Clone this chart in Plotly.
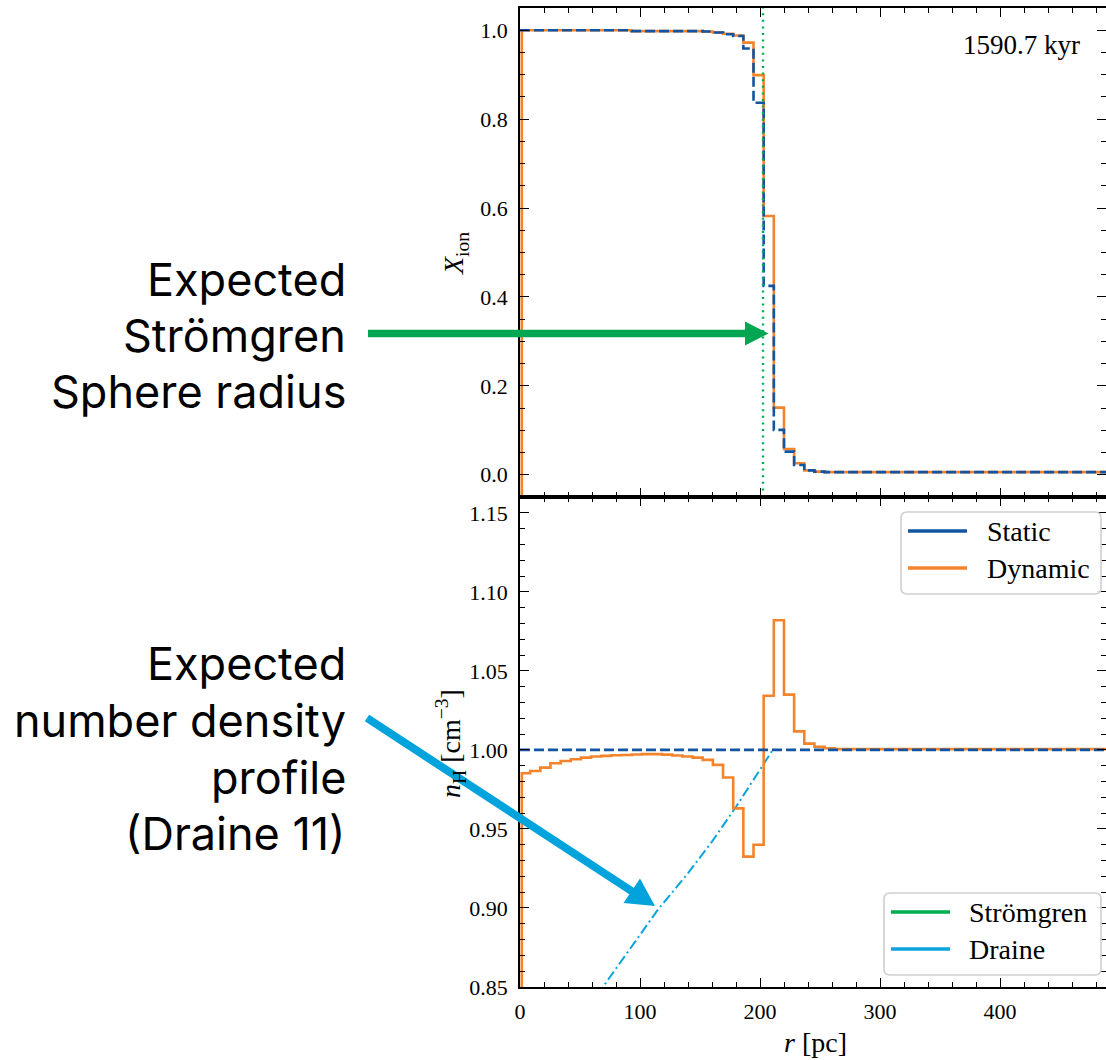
import plotly.graph_objects as go

W, H = 1106, 1060

# ---- data ---------------------------------------------------------------
# radial bin edges of the profile [pc]
bin_edges = [0.00, 8.46, 16.92, 25.38, 33.84, 42.30, 50.76, 59.22, 67.68, 76.14,
             84.60, 93.06, 101.52, 109.98, 118.44, 126.90, 135.36, 143.82, 152.28,
             160.74, 169.20, 177.66, 186.12, 194.58, 203.04, 211.50, 219.96, 228.42,
             236.88, 245.34, 253.80, 262.26]
r_max = 488.3

# boundary (ghost) cell of the dynamic run
ghost_r = 1.5
ghost_x_ion = -0.1
ghost_n_h = 0.0

# ionised fraction per bin (last entry = outer tail)
x_ion_dynamic = [1.000, 1.000, 1.000, 1.000, 1.000, 1.000, 1.000, 1.000, 1.000, 1.000,
                 1.000, 0.998, 0.998, 0.998, 0.998, 0.998, 0.998, 0.998, 0.997, 0.995,
                 0.992, 0.988, 0.972, 0.899, 0.582, 0.151, 0.058, 0.026, 0.010, 0.007,
                 0.006, 0.006]
x_ion_static = [1.000, 1.000, 1.000, 1.000, 1.000, 1.000, 1.000, 1.000, 1.000, 1.000,
                1.000, 0.998, 0.998, 0.998, 0.998, 0.998, 0.998, 0.998, 0.997, 0.995,
                0.991, 0.987, 0.959, 0.837, 0.425, 0.101, 0.052, 0.022, 0.010, 0.007,
                0.006, 0.006]

# hydrogen number density per bin [cm^-3]
n_h_dynamic = [0.9852, 0.9867, 0.9888, 0.9916, 0.9930, 0.9941, 0.9951, 0.9958, 0.9962, 0.9966,
               0.9968, 0.9971, 0.9973, 0.9973, 0.9970, 0.9965, 0.9958, 0.9951, 0.9937, 0.9905,
               0.9825, 0.9630, 0.9325, 0.9400, 1.0343, 1.0820, 1.0350, 1.0117, 1.0040, 1.0020,
               1.0010, 1.0005]
static_r = [0.0, r_max]
n_h_static = [1.0, 1.0]

# Draine (2011) density profile
draine_r = [55, 70, 90, 115, 140, 160, 180, 200, 210.6]
draine_n = [0.835, 0.851, 0.873, 0.899, 0.922, 0.942, 0.964, 0.988, 1.000]

# Strömgren radius [pc]
r_stromgren = 202.5

time_label = "1590.7 kyr"

note_stromgren = ["Expected", "Strömgren", "Sphere radius"]
note_draine = ["Expected", "number density", "profile", "(Draine 11)"]

# ---- style ----------------------------------------------------------------
C_STATIC = "#1254A1"
C_DYNAMIC = "#F4842C"
C_STROM = "#00AD50"
C_DRAINE = "#0AA5DC"
SERIF = "Liberation Serif"
SANS = "Inter"
TXT = 28


def px(x):
    return x / W


def py(y):
    return 1 - y / H


step_x = bin_edges + [r_max]
dyn_x = [0.0, ghost_r] + bin_edges[1:] + [r_max]

fig = go.Figure()

# top panel: ionised fraction
fig.add_trace(go.Scatter(x=dyn_x, y=[ghost_x_ion] + x_ion_dynamic + [x_ion_dynamic[-1]],
                         mode="lines", line=dict(color=C_DYNAMIC, width=2.6, shape="hv"),
                         xaxis="x", yaxis="y", showlegend=False))
fig.add_trace(go.Scatter(x=step_x, y=x_ion_static + [x_ion_static[-1]],
                         mode="lines", line=dict(color=C_STATIC, width=2.6, shape="hv", dash="10px,4px"),
                         xaxis="x", yaxis="y", showlegend=False))
fig.add_trace(go.Scatter(x=[r_stromgren, r_stromgren], y=[-0.05, 1.05],
                         mode="lines", line=dict(color=C_STROM, width=2.4, dash="2px,4.6px"),
                         xaxis="x", yaxis="y", showlegend=False))

# bottom panel: density
fig.add_trace(go.Scatter(x=draine_r, y=draine_n, mode="lines",
                         line=dict(color=C_DRAINE, width=2, dash="10px,3.5px,2px,3.5px"),
                         xaxis="x2", yaxis="y2", showlegend=False))
fig.add_trace(go.Scatter(x=dyn_x, y=[ghost_n_h] + n_h_dynamic + [n_h_dynamic[-1]],
                         mode="lines", line=dict(color=C_DYNAMIC, width=2.6, shape="hv"),
                         xaxis="x2", yaxis="y2", showlegend=False))
fig.add_trace(go.Scatter(x=static_r, y=n_h_static, mode="lines",
                         line=dict(color=C_STATIC, width=2.6, dash="10px,4px"),
                         xaxis="x2", yaxis="y2", showlegend=False))

x_dom = [px(520), 1.0]
top_dom = [py(497), py(8)]
bot_dom = [py(987), py(497)]

axis_common = dict(
    showline=True, linecolor="black", linewidth=1.6, mirror="ticks",
    ticks="inside", ticklen=9, tickwidth=1.3, tickcolor="black",
    showgrid=False, zeroline=False, automargin=False,
    tickfont=dict(family=SERIF, size=22, color="black"),
)
minor_common = dict(ticks="inside", ticklen=5, tickwidth=1.1, tickcolor="black", showgrid=False)

fig.update_layout(
    template="none",
    width=W, height=H,
    margin=dict(l=0, r=0, t=0, b=0, pad=0, autoexpand=False),
    paper_bgcolor="white", plot_bgcolor="white",
    showlegend=False,
    xaxis=dict(domain=x_dom, anchor="y", range=[0, r_max], dtick=100, tick0=0,
               showticklabels=False, minor=dict(dtick=20, **minor_common), **axis_common),
    yaxis=dict(domain=top_dom, anchor="x", range=[-0.05, 1.05], dtick=0.2, tick0=0,
               tickformat=".1f", ticklabelstandoff=6,
               minor=dict(dtick=0.05, **minor_common), **axis_common),
    xaxis2=dict(domain=x_dom, anchor="y2", range=[0, r_max], dtick=100, tick0=0,
                ticklabelstandoff=4, minor=dict(dtick=20, **minor_common), **axis_common),
    yaxis2=dict(domain=bot_dom, anchor="x2", range=[0.85, 1.16], dtick=0.05, tick0=0.85,
                tickformat=".2f", ticklabelstandoff=6,
                minor=dict(dtick=0.01, **minor_common), **axis_common),
)

shapes = []
annotations = []


def rounded_box(x0, y0, x1, y1, rad=6):
    path = (f"M{px(x0 + rad)},{py(y0)} L{px(x1 - rad)},{py(y0)} "
            f"Q{px(x1)},{py(y0)} {px(x1)},{py(y0 + rad)} "
            f"L{px(x1)},{py(y1 - rad)} Q{px(x1)},{py(y1)} {px(x1 - rad)},{py(y1)} "
            f"L{px(x0 + rad)},{py(y1)} Q{px(x0)},{py(y1)} {px(x0)},{py(y1 - rad)} "
            f"L{px(x0)},{py(y0 + rad)} Q{px(x0)},{py(y0)} {px(x0 + rad)},{py(y0)} Z")
    return dict(type="path", xref="paper", yref="paper", path=path,
                line=dict(color="#cfcfcf", width=1.6), fillcolor="rgba(255,255,255,0.85)",
                layer="above")


def legend(box, entries, x_line0, x_line1, x_text):
    shapes.append(rounded_box(*box))
    for label, color, yc in entries:
        shapes.append(dict(type="line", xref="paper", yref="paper",
                           x0=px(x_line0), x1=px(x_line1), y0=py(yc), y1=py(yc),
                           line=dict(color=color, width=3.6), layer="above"))
        annotations.append(dict(text=label, xref="paper", yref="paper", x=px(x_text), y=py(yc),
                                xanchor="left", yanchor="middle", showarrow=False,
                                font=dict(family=SERIF, size=TXT, color="black")))


legend((901, 512, 1101, 594), [("Static", C_STATIC, 531), ("Dynamic", C_DYNAMIC, 568)],
       908, 967, 985)
legend((884, 893, 1101, 975), [("Strömgren", C_STROM, 912), ("Draine", C_DRAINE, 949)],
       891, 950, 967)

# axis titles and time stamp
annotations += [
    dict(text="<i>X</i><sub>ion</sub>", xref="paper", yref="paper", x=px(455), y=py(254),
         textangle=-90, showarrow=False, xanchor="center", yanchor="middle",
         font=dict(family=SERIF, size=TXT, color="black")),
    dict(text="<i>n</i><sub>H</sub> [cm<sup>−3</sup>]", xref="paper", yref="paper",
         x=px(450), y=py(744), textangle=-90, showarrow=False, xanchor="center",
         yanchor="middle", font=dict(family=SERIF, size=TXT, color="black")),
    dict(text="<i>r</i> [pc]", xref="paper", yref="paper", x=px(815), y=py(1042),
         showarrow=False, xanchor="center", yanchor="middle",
         font=dict(family=SERIF, size=TXT, color="black")),
    dict(text=time_label, xref="paper", yref="paper", x=px(1082), y=py(45),
         showarrow=False, xanchor="right", yanchor="middle",
         font=dict(family=SERIF, size=27, color="black")),
]

# explanatory notes, one annotation per line
for text, yc in zip(note_stromgren, [280, 336, 392]):
    annotations.append(dict(text=text, xref="paper", yref="paper", x=px(348), y=py(yc),
                            showarrow=False, xanchor="right", yanchor="middle",
                            font=dict(family=SANS, size=45, color="black")))
for text, yc in zip(note_draine, [663, 720, 777, 833]):
    annotations.append(dict(text=text, xref="paper", yref="paper", x=px(348), y=py(yc),
                            showarrow=False, xanchor="right", yanchor="middle",
                            font=dict(family=SANS, size=45, color="black")))

G_ARROW = "#00A651"
B_ARROW = "#00A3DC"
shapes += [
    dict(type="line", xref="paper", yref="paper", x0=px(368), y0=py(333.5), x1=px(747), y1=py(333.5),
         line=dict(color=G_ARROW, width=7.3), layer="above"),
    dict(type="path", xref="paper", yref="paper",
         path=f"M{px(745)},{py(321.5)} L{px(768.5)},{py(333.5)} L{px(745)},{py(345.5)} Z",
         fillcolor=G_ARROW, line=dict(color=G_ARROW, width=0), layer="above"),
    dict(type="line", xref="paper", yref="paper", x0=px(367), y0=py(718), x1=px(633), y1=py(892),
         line=dict(color=B_ARROW, width=8), layer="above"),
    dict(type="path", xref="paper", yref="paper",
         path=f"M{px(623.5)},{py(903)} L{px(655)},{py(906)} L{px(640)},{py(878.5)} Z",
         fillcolor=B_ARROW, line=dict(color=B_ARROW, width=0), layer="above"),
]

fig.update_layout(shapes=shapes, annotations=annotations)

fig.write_html("out.html")
